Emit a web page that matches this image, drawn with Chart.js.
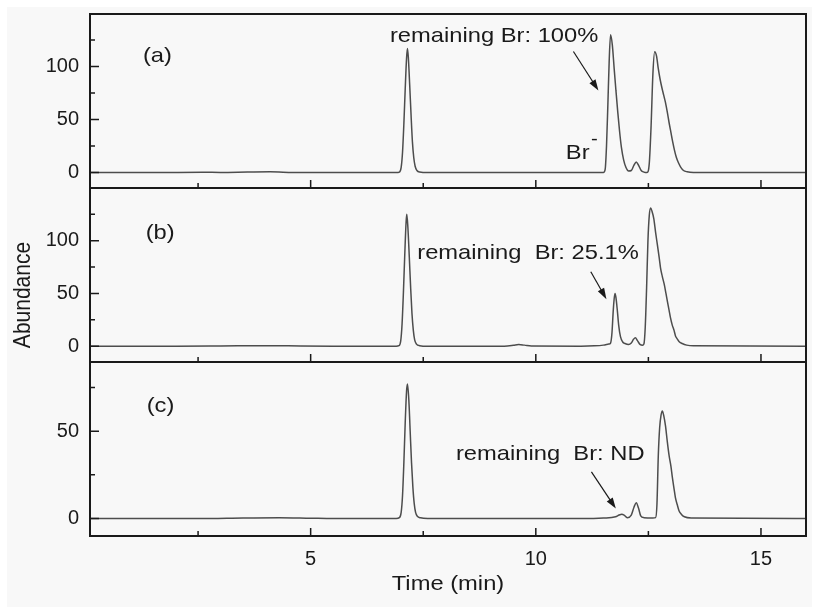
<!DOCTYPE html>
<html><head><meta charset="utf-8">
<script src="https://cdn.jsdelivr.net/npm/chart.js@4.4.1/dist/chart.umd.min.js"></script>
<style>html,body{margin:0;padding:0;background:#fff;}canvas{display:block;}</style>
</head><body>
<canvas id="c" width="822" height="608"></canvas>
<script>
// ---- data ----
const timeA = [0.1,1.5,2.6,3.0,3.6,4.1,4.6,5.5,6.9,6.97,7.01,7.04,7.07,7.10,7.13,7.15,7.17,7.20,7.23,7.26,7.29,7.32,7.36,7.42,7.6,9.0,11.0,11.5,11.54,11.57,11.60,11.63,11.66,11.70,11.74,11.78,11.82,11.86,11.90,11.95,12.00,12.06,12.12,12.18,12.23,12.28,12.34,12.40,12.47,12.52,12.56,12.60,12.64,12.68,12.72,12.76,12.80,12.84,12.88,12.92,12.96,13.00,13.04,13.08,13.12,13.17,13.22,13.28,13.36,13.5,16.0];
const abundA = [0,0,0.3,0.2,0.5,0.7,0.2,0,0,0.5,5,19,46,79,108,117,108,82,54,29,14,6,2,0.5,0,0,0,0,3,25,64,106,130,120,98,77,57,39,24,12,5,1.5,2,7,10,7,2,0.5,0,9,44,93,114,110,98,88,80,73,66,57,47,38,29,21,14.5,9,5,2,0.8,0.2,0];

const timeB = [0.1,2.0,3.0,4.0,4.5,5.5,6.9,6.96,7.00,7.03,7.06,7.09,7.12,7.135,7.16,7.19,7.22,7.25,7.28,7.31,7.35,7.42,7.6,9.3,9.5,9.62,9.75,9.9,11.0,11.3,11.5,11.62,11.66,11.69,11.72,11.74,11.76,11.78,11.81,11.84,11.88,11.93,11.98,12.06,12.12,12.17,12.21,12.26,12.32,12.37,12.40,12.43,12.46,12.49,12.52,12.55,12.58,12.62,12.66,12.70,12.74,12.77,12.81,12.85,12.89,12.92,12.96,12.99,13.03,13.07,13.10,13.14,13.19,13.25,13.35,13.5,16.0];
const abundB = [0,0,0.2,0.5,0.3,0,0,0.5,5,21,51,87,118,125,112,85,56,31,15,6,2,0.5,0,0,0.8,1.6,1.0,0.2,0,0.3,1,2,3,12,34,45,50,46,34,20,9,4,2.5,1.5,3,6.5,8,5,1.5,1,2,18,55,100,124,131,128,121,108,96,84,74,66,59,50,43,34,27,20,15,10,7,4,2.5,1,0.3,0];

const timeC = [0.1,2.5,3.5,4.3,5.0,5.5,6.9,6.97,7.01,7.04,7.07,7.10,7.13,7.15,7.18,7.21,7.24,7.27,7.30,7.33,7.37,7.44,7.6,11.0,11.5,11.77,11.85,11.91,11.96,12.03,12.12,12.18,12.23,12.28,12.33,12.40,12.6,12.66,12.69,12.72,12.75,12.78,12.81,12.84,12.88,12.92,12.96,13.00,13.03,13.07,13.10,13.14,13.18,13.23,13.30,13.45,16.0];
const abundC = [0,0,0.3,0.5,0.2,0,0,0.5,3.5,13,32,55,73,77,68,50,32,18,8.5,3.5,1.3,0.4,0,0,0.3,1,2,2.5,2,0.5,2,6.5,9,6,1.5,0.5,0.3,0.5,8,36,52,59,61.6,59,53,44,36,30,24,17,12,8,4.5,2.5,1,0.3,0];

// ---- tick labels ----
const xTicks = [5, 10, 15];
const xMinor = [2.5, 7.5, 12.5];
const yTicksA = [0, 50, 100], yMinorA = [25, 75, 125];
const yTicksB = [0, 50, 100], yMinorB = [25, 75, 125];
const yTicksC = [0, 50],      yMinorC = [25, 75];

// ---- texts ----
const panelLabels = ['(a)', '(b)', '(c)'];
const noteTexts = ['remaining Br: 100%', 'remaining  Br: 25.1%', 'remaining  Br: ND'];
const xTitle = 'Time (min)';
const yTitle = 'Abundance';

const FONT = '"Liberation Sans", Arial, Helvetica, sans-serif';
const STRETCH = 1.13;
const INK = '#1a1a1a';

const panels = [
  {id:'ya', min:-14.5, max:149.5, ticks:yTicksA, minor:yMinorA,
   label:{x:1.276, y:104}, note:{x:6.761, y:123.3}, arrow:[10.835,114.2,11.39,77.4], br:true},
  {id:'yb', min:-15, max:150, ticks:yTicksB, minor:yMinorB,
   label:{x:1.336, y:101.3}, note:{x:7.367, y:82.3}, arrow:[11.221,70.6,11.568,44.6]},
  {id:'yc', min:-10, max:89.6, ticks:yTicksC, minor:yMinorC,
   label:{x:1.358, y:60.7}, note:{x:8.227, y:33.4}, arrow:[11.235,26.7,11.777,5.7]}
];

function sText(ctx, str, x, y, size, align, baseline, rot) {
  ctx.save();
  ctx.translate(x, y);
  ctx.scale(STRETCH, 1);
  if (rot) ctx.rotate(rot);
  ctx.font = size + 'px ' + FONT;
  ctx.fillStyle = INK;
  ctx.textAlign = align || 'left';
  ctx.textBaseline = baseline || 'alphabetic';
  ctx.fillText(str, 0, 0);
  ctx.restore();
}
function arrow(ctx, x1, y1, x2, y2) {
  const a = Math.atan2(y2 - y1, x2 - x1), L = 11, W = 3.6;
  const c = Math.cos(a), s = Math.sin(a);
  ctx.beginPath(); ctx.moveTo(x1, y1); ctx.lineTo(x2 - L * 0.7 * c, y2 - L * 0.7 * s); ctx.stroke();
  ctx.beginPath(); ctx.moveTo(x2, y2);
  ctx.lineTo(x2 - L * c + W * s, y2 - L * s - W * c);
  ctx.lineTo(x2 - L * c - W * s, y2 - L * s + W * c);
  ctx.closePath(); ctx.fill();
}

const decor = {
  id: 'decor',
  beforeDraw(chart) {
    const ctx = chart.ctx;
    ctx.save();
    ctx.fillStyle = '#ffffff'; ctx.fillRect(0, 0, chart.width, chart.height);
    ctx.fillStyle = '#f8f8f8'; ctx.fillRect(7, 7, 805, 600);
    ctx.restore();
  },
  afterDatasetsDraw(chart) {
    const ctx = chart.ctx, xs = chart.scales.x, area = chart.chartArea;
    ctx.save();
    ctx.strokeStyle = INK; ctx.fillStyle = INK;
    panels.forEach((p, i) => {
      const ys = chart.scales[p.id];
      const top = ys.top, bottom = ys.bottom, left = area.left, right = area.right;
      ctx.lineWidth = 1.5;
      ctx.beginPath();
      p.ticks.forEach(v => { const y = ys.getPixelForValue(v); ctx.moveTo(left, y); ctx.lineTo(left + 9, y); });
      p.minor.forEach(v => { const y = ys.getPixelForValue(v); ctx.moveTo(left, y); ctx.lineTo(left + 5, y); });
      xTicks.forEach(v => { const x = xs.getPixelForValue(v); ctx.moveTo(x, bottom); ctx.lineTo(x, bottom - 8); });
      xMinor.forEach(v => { const x = xs.getPixelForValue(v); ctx.moveTo(x, bottom); ctx.lineTo(x, bottom - 5); });
      ctx.stroke();
      ctx.lineWidth = 2;
      ctx.strokeRect(left, top, right - left, bottom - top);
      // labels
      sText(ctx, panelLabels[i], xs.getPixelForValue(p.label.x), ys.getPixelForValue(p.label.y), 21);
      sText(ctx, noteTexts[i], xs.getPixelForValue(p.note.x), ys.getPixelForValue(p.note.y), 21);
      ctx.lineWidth = 1.2;
      const a = p.arrow;
      arrow(ctx, xs.getPixelForValue(a[0]), ys.getPixelForValue(a[1]), xs.getPixelForValue(a[2]), ys.getPixelForValue(a[3]));
      if (p.br) {
        sText(ctx, 'Br', xs.getPixelForValue(10.666), ys.getPixelForValue(12.6), 21);
        sText(ctx, '-', xs.getPixelForValue(11.225), ys.getPixelForValue(26.5), 18);
      }
    });
    // axis titles
    sText(ctx, yTitle, area.left - 67, 295, 21, 'center', 'middle', -Math.PI / 2);
    sText(ctx, xTitle, (area.left + area.right) / 2, area.bottom + 48, 21, 'center', 'middle');
    ctx.restore();
  }
};

function yScale(p) {
  return {
    type: 'linear', position: 'left', stack: 'panels', stackWeight: 1,
    min: p.min, max: p.max,
    grid: {display: false, drawTicks: false}, border: {display: false},
    ticks: {font: {size: 20, family: FONT}, color: INK, padding: 11},
    afterBuildTicks: s => { s.ticks = p.ticks.map(v => ({value: v})); },
    afterFit: s => { s.width = 90; s.paddingTop = 0; s.paddingBottom = 0; }
  };
}
const toXY = (t, v) => t.map((x, i) => ({x: x, y: v[i]}));
const lineStyle = {borderColor: '#4d4d4d', borderWidth: 1.5, pointRadius: 0, fill: false, cubicInterpolationMode: 'monotone'};

new Chart(document.getElementById('c'), {
  type: 'line',
  data: {
    datasets: [
      Object.assign({label: '(a)', data: toXY(timeA, abundA), yAxisID: 'ya'}, lineStyle),
      Object.assign({label: '(b)', data: toXY(timeB, abundB), yAxisID: 'yb'}, lineStyle),
      Object.assign({label: '(c)', data: toXY(timeC, abundC), yAxisID: 'yc'}, lineStyle)
    ]
  },
  options: {
    responsive: false, animation: false, devicePixelRatio: 1,
    layout: {padding: {top: 14, right: 16, left: 0, bottom: 0}},
    plugins: {legend: {display: false}, tooltip: {enabled: false}},
    scales: {
      x: {
        type: 'linear', position: 'bottom', min: 0.1, max: 16,
        grid: {display: false, drawTicks: false}, border: {display: false},
        ticks: {font: {size: 20, family: FONT}, color: INK, padding: 11, maxRotation: 0},
        afterBuildTicks: s => { s.ticks = xTicks.map(v => ({value: v})); },
        afterFit: s => { s.height = 72; s.paddingLeft = 0; s.paddingRight = 0; }
      },
      yc: yScale(panels[2]),
      yb: yScale(panels[1]),
      ya: yScale(panels[0])
    }
  },
  plugins: [decor]
});
</script>
</body></html>
